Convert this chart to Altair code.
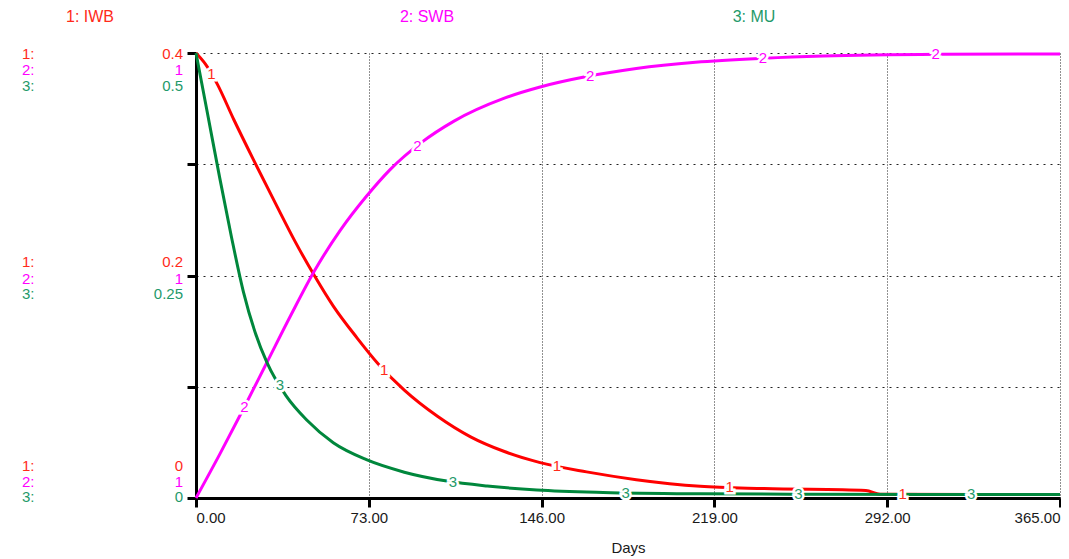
import altair as alt
import pandas as pd
import numpy as np

# ---------------- data ----------------
iwb_days = [0, 4, 9, 16, 25, 34, 42, 50, 58, 68, 77, 88, 102, 116, 130, 145, 165, 186, 213, 240, 283, 289, 330, 365]
iwb_vals = [0.400, 0.390, 0.372, 0.340, 0.301, 0.263, 0.230, 0.200, 0.1725, 0.144, 0.1205, 0.097, 0.0735, 0.055,
            0.042, 0.032, 0.0235, 0.0165, 0.0105, 0.0085, 0.0068, 0.0034, 0.0032, 0.0032]

swb_days = [0, 10, 20, 30, 40, 50, 61, 72, 82, 95, 109, 130, 145, 165, 186, 211, 240, 265, 314, 365]
swb_vals = [0, 0.098, 0.200, 0.305, 0.410, 0.510, 0.602, 0.678, 0.738, 0.798, 0.847, 0.898, 0.923, 0.947, 0.965,
            0.979, 0.988, 0.993, 0.997, 0.998]

mu_days = [0, 5, 10, 15, 20, 25, 30, 38, 47, 58, 72, 88, 106, 123, 144, 172, 213, 260, 310, 365]
mu_vals = [0.5, 0.43, 0.36, 0.293, 0.232, 0.186, 0.152, 0.115, 0.087, 0.062, 0.043, 0.029, 0.019, 0.0135,
           0.009, 0.0062, 0.0047, 0.0042, 0.004, 0.004]

series_names = ["1: IWB", "2: SWB", "3: MU"]
series_max = [0.4, 1.0, 0.5]
x_ticks = [0, 73, 146, 219, 292, 365]
y_ticks_iwb = [0, 0.1, 0.2, 0.3, 0.4]

label_days_iwb = [6.5, 79.5, 152.5, 225.5, 298.5]
label_days_swb = [20.5, 93.5, 166.5, 239.5, 312.5]
label_days_mu = [35.5, 108.5, 181.5, 254.5, 327.5]

# left scale labels: (top, middle, bottom) for each series
scale_labels_iwb = ["0.4", "0.2", "0"]
scale_labels_swb = ["1", "1", "1"]
scale_labels_mu = ["0.5", "0.25", "0"]

# ---------------- style ----------------
RED = "#FF0000"
MAG = "#FF00FF"
GRN = "#00873C"
RED_T = "#FF2A1A"
MAG_T = "#FF00FF"
GRN_T = "#1F9A6A"
FONT = "Liberation Sans"
W, H = 864, 445

x_enc = alt.X(
    "day:Q",
    scale=alt.Scale(domain=[0, 365], nice=False, zero=False),
    axis=alt.Axis(
        values=x_ticks, format=".2f", title="Days",
        grid=True, gridDash=[1, 2], gridColor="#222222", gridWidth=1,
        domainColor="black", domainWidth=3, tickColor="black", tickWidth=3, tickSize=9,
        labelFont=FONT, labelFontSize=15, labelColor="#1a1a1a", labelPadding=3,
        labelFlush=True, labelFlushOffset=0,
        titleFont=FONT, titleFontSize=15, titleFontWeight="normal", titleColor="#1a1a1a", titlePadding=15,
    ),
)


def y_enc(maxv, axis=None):
    return alt.Y("v:Q", scale=alt.Scale(domain=[0, maxv], nice=False, zero=False), axis=axis)


iwb_axis = alt.Axis(
    values=y_ticks_iwb, labels=False, title=None,
    grid=True, gridDash=[2, 5], gridColor="#222222", gridWidth=1,
    domainColor="black", domainWidth=3, tickColor="black", tickWidth=3, tickSize=9,
)


def line_layer(days, vals, maxv, color, axis=None):
    df = pd.DataFrame({"day": days, "v": vals})
    return alt.Chart(df).mark_line(color=color, strokeWidth=3, interpolate="monotone").encode(
        x=x_enc, y=y_enc(maxv, axis)
    )


def label_layer(ldays, days, vals, maxv, text, color):
    df = pd.DataFrame({"day": ldays, "v": np.interp(ldays, days, vals), "t": [text] * len(ldays)})
    halo = alt.Chart(df).mark_text(font=FONT, fontSize=15, stroke="white", strokeWidth=5,
                                   fill="white", baseline="middle", align="center").encode(
        x=x_enc, y=y_enc(maxv), text="t:N")
    txt = alt.Chart(df).mark_text(font=FONT, fontSize=15, color=color,
                                  baseline="middle", align="center").encode(
        x=x_enc, y=y_enc(maxv), text="t:N")
    return alt.layer(halo, txt)


layers = [
    line_layer(iwb_days, iwb_vals, series_max[0], RED, iwb_axis),
    line_layer(swb_days, swb_vals, series_max[1], MAG),
    line_layer(mu_days, mu_vals, series_max[2], GRN),
    label_layer(label_days_iwb, iwb_days, iwb_vals, series_max[0], "1", RED_T),
    label_layer(label_days_swb, swb_days, swb_vals, series_max[1], "2", MAG_T),
    label_layer(label_days_mu, mu_days, mu_vals, series_max[2], "3", GRN_T),
]

# annotation text (legend on top, scale labels at left)
one = pd.DataFrame({"a": [0]})


def note(text, x, y, color, align="center", size=15):
    return alt.Chart(one).mark_text(text=text, font=FONT, fontSize=size, color=color,
                                    align=align, baseline="middle").encode(
        x=alt.value(x), y=alt.value(y))


colors_t = [RED_T, MAG_T, GRN_T]
legend_x = [-106, 231, 558]
for name, lx, c in zip(series_names, legend_x, colors_t):
    layers.append(note(name, lx, -36, c, size=16))

group_y = [[1, 17, 33], [-14, 3, 18], [-32, -16, -1]]
group_base = [0, H / 2, H]
vals_by_series = [scale_labels_iwb, scale_labels_swb, scale_labels_mu]
for g in range(3):
    for i in range(3):
        yy = group_base[g] + group_y[g][i]
        layers.append(note(f"{i + 1}:", -174, yy, colors_t[i], align="left"))
        layers.append(note(vals_by_series[i][g], -13, yy, colors_t[i], align="right"))

chart = (
    alt.layer(*layers)
    .resolve_scale(y="independent")
    .properties(
        width=W, height=H,
        autosize=alt.AutoSizeParams(type="none"),
        padding={"left": 188, "top": 45, "right": 1, "bottom": 58},
        background="white",
    )
    .configure_view(strokeWidth=0)
)

chart.save("out.html", embed_options={"renderer": "svg", "actions": False})
